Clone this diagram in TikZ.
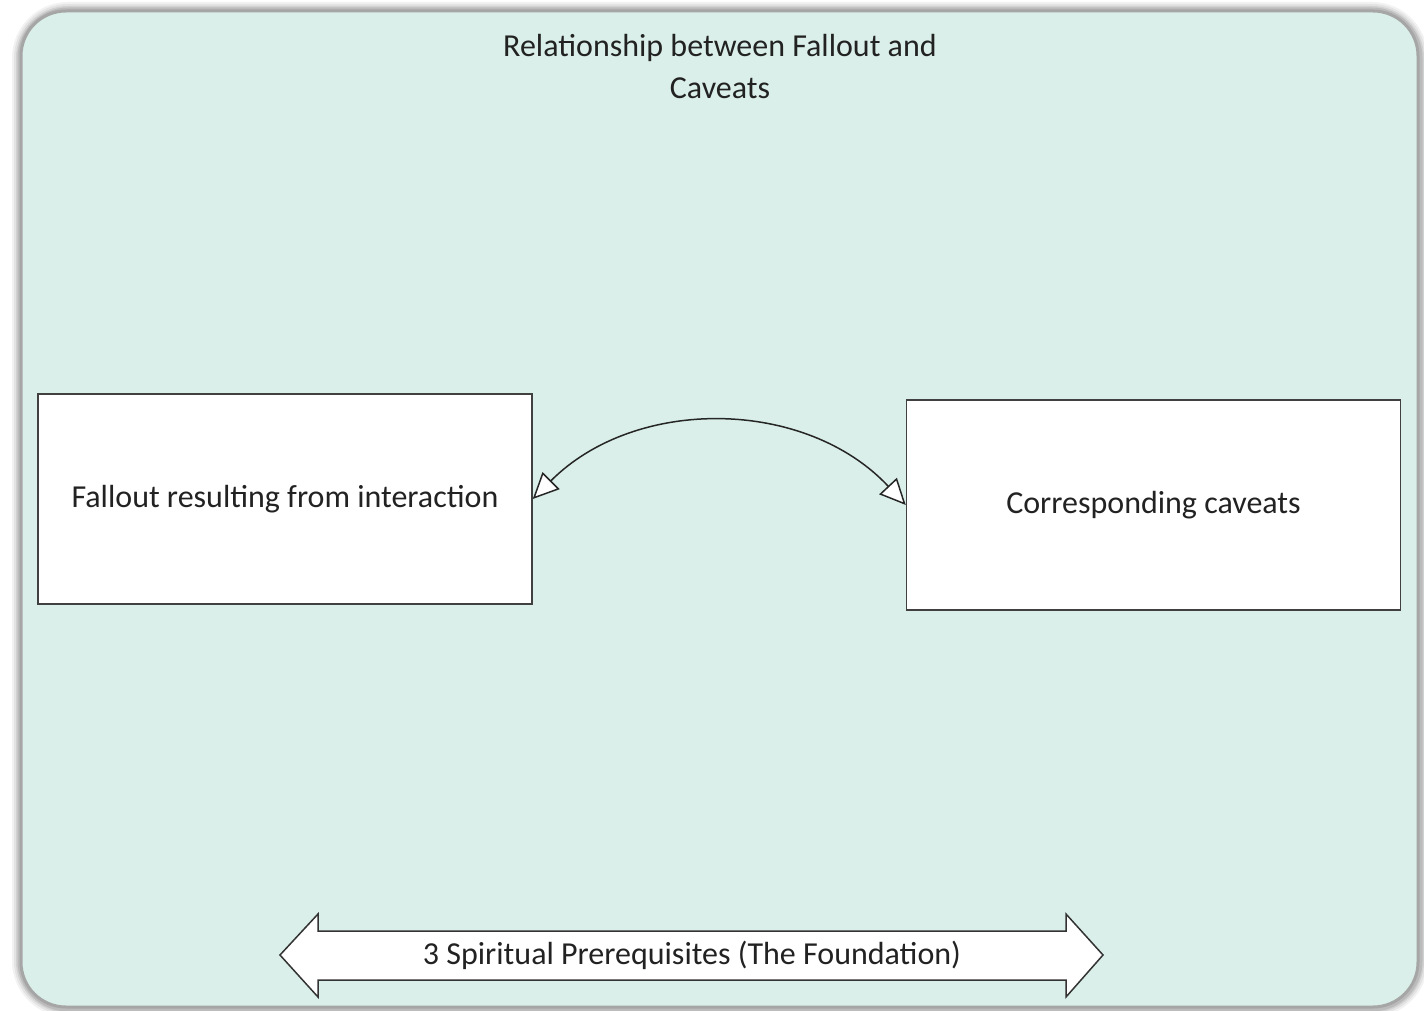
\documentclass[tikz,border=0pt]{standalone}
\usepackage{fontspec}
\setmainfont{Carlito}
\usetikzlibrary{arrows.meta}
\definecolor{bgteal}{HTML}{DAEFE9}
\definecolor{ink}{HTML}{222222}
\tikzset{
  box/.style={draw=black!75, fill=white, line width=1.5pt, inner sep=0pt, minimum width=494pt, minimum height=210pt},
  lbl/.style={font=\fontsize{32}{42}\selectfont, text=ink},
  link/.style={draw=black!85, line width=1.5pt, {Triangle[fill=white, length=26pt, width=24pt, line width=1.5pt]}-{Triangle[fill=white, length=26pt, width=24pt, line width=1.5pt]}},
  bigarrow/.style={draw=black!80, fill=white, line width=1.5pt, line join=miter}
}
\begin{document}
\begin{tikzpicture}[x=1pt, y=-1pt]
\useasboundingbox (0,0) rectangle (1424,1011);
\fill[white] (0,0) rectangle (1424,1011);
% soft shadow around the frame
\foreach \w/\o in {16/0.05, 12/0.06, 8/0.08, 5/0.1} {
  \draw[black, opacity=\o, line width=\w pt, rounded corners=48pt] (20,10) rectangle (1420,1009);
}
% frame
\draw[draw=black!35, line width=3pt, fill=bgteal, rounded corners=45pt] (21,11) rectangle (1418,1007);
% title
\node[lbl, align=center] (title) at (720,67) {Relationship between Fallout and\\Caveats};
% boxes
\node[box, lbl] (fallout) at (285,499) {Fallout resulting from interaction};
\node[box, lbl] (caveats) at (1153.5,505) {Corresponding caveats};
% curved double connector
\draw[link] (fallout.east) to[bend left=46] (caveats.west);
% foundation double arrow
\draw[bigarrow] (280,955) -- (318,914) -- (318,931) -- (1066,931) -- (1066,914) -- (1103,955)
  -- (1066,997) -- (1066,980) -- (318,980) -- (318,997) -- cycle;
\node[lbl] (foundation) at (692,955) {3 Spiritual Prerequisites (The Foundation)};
\end{tikzpicture}
\end{document}
